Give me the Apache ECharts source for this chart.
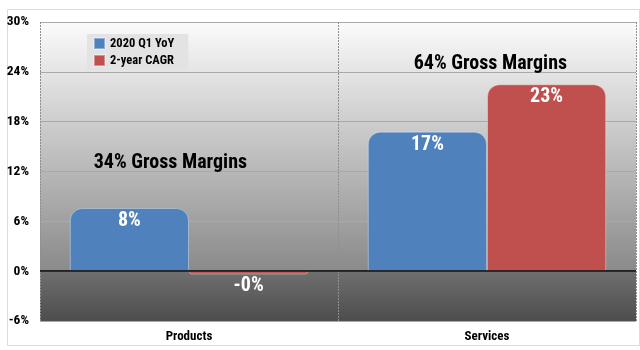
<!DOCTYPE html>
<html>
<head>
<meta charset="utf-8">
<script src="https://cdn.jsdelivr.net/npm/echarts@6/dist/echarts.min.js"></script>
<style>
html,body{margin:0;padding:0;background:#fff;}
#chart{width:640px;height:350px;}
</style>
</head>
<body>
<div id="chart"></div>
<script>
var categories = ['Products', 'Services'];
var seriesNames = ['2020 Q1 YoY', '2-year CAGR'];
var yoyValues = [7.6, 16.8];
var cagrValues = [-0.4, 22.5];
var annotationTexts = ['34% Gross Margins', '64% Gross Margins'];
var annotationValues = [13, 25];
var yMin = -6, yMax = 30, yStep = 6;

var FONT = '"Roboto Condensed", "Open Sans Condensed", sans-serif';
var colors = ['#4f81bd', '#c0504d'];

function buildData(values) {
  return values.map(function (v) {
    var neg = v < 0;
    return {
      value: v,
      itemStyle: { borderRadius: neg ? [0, 0, 12, 12] : [12, 12, 0, 0] },
      label: neg ? { position: 'bottom', distance: 2 } : { position: 'insideTop', distance: 3 }
    };
  });
}

var labelStyle = {
  show: true,
  color: '#fff',
  fontFamily: FONT,
  fontWeight: 'bold',
  fontSize: 20,
  formatter: function (p) { return Number(p.value).toFixed(0) + '%'; }
};

var chart = echarts.init(document.getElementById('chart'), null, { renderer: 'canvas' });
chart.setOption({
  animation: false,
  backgroundColor: '#fff',
  color: colors,
  graphic: [{
    type: 'rect', left: 5, top: 7, z: -10, silent: true,
    shape: { width: 632, height: 336 },
    style: { fill: 'none', stroke: '#dcdcdc', lineWidth: 1 }
  }],
  legend: {
    left: 87, top: 34, orient: 'vertical',
    backgroundColor: '#e3e3e3',
    padding: [3, 14, 3, 6],
    itemWidth: 11, itemHeight: 11, itemGap: 4,
    icon: 'rect',
    textStyle: { fontFamily: FONT, fontWeight: 'bold', fontSize: 12.5, color: '#000' },
    data: seriesNames
  },
  grid: {
    left: 40, right: 4, top: 22, bottom: 29,
    show: true,
    borderWidth: 0,
    backgroundColor: {
      type: 'linear', x: 0, y: 0, x2: 0, y2: 1,
      colorStops: [
        { offset: 0, color: '#fbfbfb' },
        { offset: 0.833, color: '#8a8a8a' },
        { offset: 0.834, color: '#6f6f6f' },
        { offset: 1, color: '#4d4d4d' }
      ]
    }
  },
  xAxis: {
    type: 'category',
    data: categories,
    axisLine: { show: false },
    axisTick: { show: false },
    axisLabel: { fontFamily: FONT, fontWeight: 'bold', fontSize: 13, color: '#000', margin: 9 },
    splitLine: { show: true, lineStyle: { color: '#8f8f8f', type: [2, 1], width: 1 } }
  },
  yAxis: {
    type: 'value', min: yMin, max: yMax, interval: yStep,
    axisLine: { show: false },
    axisTick: { show: false },
    axisLabel: { formatter: '{value}%', fontFamily: FONT, fontWeight: 'bold', fontSize: 13.5, color: '#000', margin: 11 },
    splitLine: { show: true, lineStyle: { color: '#a9a9a9', width: 1 } }
  },
  series: [
    {
      name: seriesNames[0], type: 'bar',
      barGap: '0%', barCategoryGap: '20%',
      data: buildData(yoyValues),
      itemStyle: { borderColor: 'rgba(255,255,255,0.35)', borderWidth: 1 },
      label: labelStyle,
      markLine: {
        silent: true, symbol: 'none', label: { show: false },
        lineStyle: { color: '#000', type: 'solid', width: 1.5 },
        data: [{ yAxis: 0 }]
      },
      markPoint: {
        symbol: 'rect', symbolSize: 0, silent: true,
        label: {
          show: true, position: 'inside', color: '#000',
          fontFamily: FONT, fontWeight: 'bold', fontSize: 20
        },
        data: [
          { coord: [categories[0], annotationValues[0]], value: annotationTexts[0], label: { formatter: annotationTexts[0], offset: [41, 0] } },
          { coord: [categories[1], annotationValues[1]], value: annotationTexts[1], label: { formatter: annotationTexts[1], offset: [63, 0] } }
        ]
      }
    },
    {
      name: seriesNames[1], type: 'bar',
      barGap: '0%', barCategoryGap: '20%',
      data: buildData(cagrValues),
      itemStyle: { borderColor: 'rgba(255,255,255,0.35)', borderWidth: 1 },
      label: labelStyle
    }
  ]
});
</script>
</body>
</html>
